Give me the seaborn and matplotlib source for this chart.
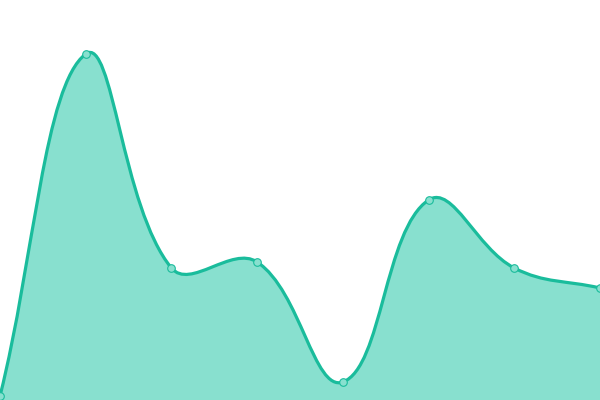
import numpy as np
import pandas as pd
import matplotlib
matplotlib.use("Agg")
import matplotlib.pyplot as plt
from matplotlib.path import Path
from matplotlib.patches import PathPatch
import seaborn as sns

# data
labels = ["A", "B", "C", "D", "E", "F", "G", "H"]
values = [4, 346, 132, 138, 18, 200, 132, 112]

LINE = "#1abc9c"
FILL = "#88e0cf"

sns.set_theme(style="white")
fig = plt.figure(figsize=(6, 4), dpi=100)
ax = fig.add_axes([0, 0, 1, 1])
ax.set_xlim(0, len(values) - 1)
ax.set_ylim(0, 400)
ax.axis("off")

xs = np.arange(len(values), dtype=float)
ys = np.array(values, dtype=float)

# Chart.js-style spline control points (tension 0.4), distances in pixel space
sx = 600 / (len(values) - 1)
sy = 400 / 400
t = 0.4
n = len(xs)
cps = []
for i in range(n):
    p = (xs[max(i - 1, 0)], ys[max(i - 1, 0)])
    c = (xs[i], ys[i])
    q = (xs[min(i + 1, n - 1)], ys[min(i + 1, n - 1)])
    d01 = np.hypot((c[0] - p[0]) * sx, (c[1] - p[1]) * sy)
    d12 = np.hypot((q[0] - c[0]) * sx, (q[1] - c[1]) * sy)
    tot = d01 + d12
    s01 = d01 / tot if tot else 0
    s12 = d12 / tot if tot else 0
    fa, fb = t * s01, t * s12
    prev_cp = (c[0] - fa * (q[0] - p[0]), c[1] - fa * (q[1] - p[1]))
    next_cp = (c[0] + fb * (q[0] - p[0]), c[1] + fb * (q[1] - p[1]))
    cps.append((prev_cp, next_cp))

verts = [(xs[0], ys[0])]
codes = [Path.MOVETO]
for i in range(1, n):
    verts += [cps[i - 1][1], cps[i][0], (xs[i], ys[i])]
    codes += [Path.CURVE4] * 3
line_path = Path(verts, codes)

fill_verts = verts + [(xs[-1], 0), (xs[0], 0), (xs[0], ys[0])]
fill_codes = codes + [Path.LINETO, Path.LINETO, Path.CLOSEPOLY]
ax.add_patch(PathPatch(Path(fill_verts, fill_codes), facecolor=FILL, edgecolor="none", zorder=1))
ax.add_patch(PathPatch(line_path, facecolor="none", edgecolor=LINE, lw=2.3, zorder=2, capstyle="round", joinstyle="round"))

df = pd.DataFrame({"x": xs, "y": ys, "label": labels})
sns.scatterplot(data=df, x="x", y="y", ax=ax, s=30, color=FILL, edgecolor=LINE, linewidth=0.8, zorder=3, clip_on=True)

fig.savefig("out.png", dpi=100)
